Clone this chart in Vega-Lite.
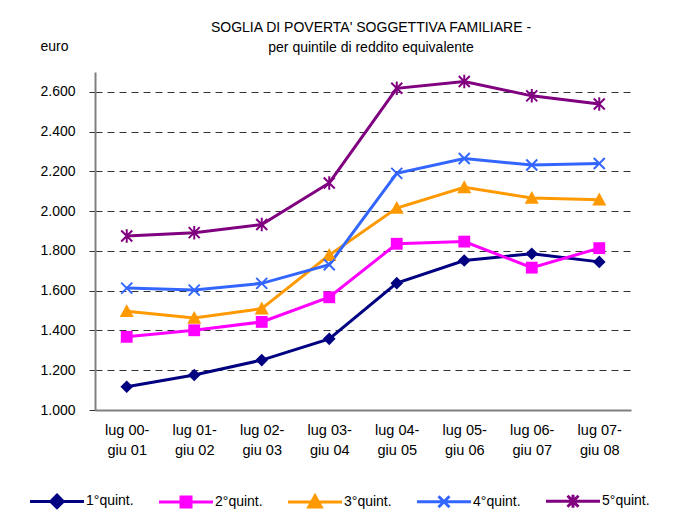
{
  "$schema": "https://vega.github.io/schema/vega-lite/v6.json",
  "width": 536,
  "height": 338,
  "autosize": {"type": "none"},
  "padding": {"left": 95, "top": 72, "right": 59, "bottom": 105},
  "background": "white",
  "title": {
    "text": "SOGLIA DI POVERTA' SOGGETTIVA FAMILIARE -",
    "subtitle": "per quintile di reddito equivalente",
    "anchor": "middle",
    "dx": 8,
    "offset": -16,
    "font": "Liberation Sans",
    "fontSize": 14,
    "fontWeight": "normal",
    "color": "black",
    "subtitleFont": "Liberation Sans",
    "subtitleFontSize": 14,
    "subtitleColor": "black",
    "subtitlePadding": 6
  },
  "data": {
    "values": [
      {"period": "lug 00-giu 01", "q": "1°quint.", "v": 1117},
      {"period": "lug 01-giu 02", "q": "1°quint.", "v": 1176},
      {"period": "lug 02-giu 03", "q": "1°quint.", "v": 1251},
      {"period": "lug 03-giu 04", "q": "1°quint.", "v": 1358},
      {"period": "lug 04-giu 05", "q": "1°quint.", "v": 1638},
      {"period": "lug 05-giu 06", "q": "1°quint.", "v": 1752},
      {"period": "lug 06-giu 07", "q": "1°quint.", "v": 1786},
      {"period": "lug 07-giu 08", "q": "1°quint.", "v": 1745},
      {"period": "lug 00-giu 01", "q": "2°quint.", "v": 1368},
      {"period": "lug 01-giu 02", "q": "2°quint.", "v": 1401},
      {"period": "lug 02-giu 03", "q": "2°quint.", "v": 1443},
      {"period": "lug 03-giu 04", "q": "2°quint.", "v": 1567},
      {"period": "lug 04-giu 05", "q": "2°quint.", "v": 1836},
      {"period": "lug 05-giu 06", "q": "2°quint.", "v": 1847},
      {"period": "lug 06-giu 07", "q": "2°quint.", "v": 1716},
      {"period": "lug 07-giu 08", "q": "2°quint.", "v": 1814},
      {"period": "lug 00-giu 01", "q": "3°quint.", "v": 1497},
      {"period": "lug 01-giu 02", "q": "3°quint.", "v": 1463},
      {"period": "lug 02-giu 03", "q": "3°quint.", "v": 1510},
      {"period": "lug 03-giu 04", "q": "3°quint.", "v": 1779},
      {"period": "lug 04-giu 05", "q": "3°quint.", "v": 2016},
      {"period": "lug 05-giu 06", "q": "3°quint.", "v": 2120},
      {"period": "lug 06-giu 07", "q": "3°quint.", "v": 2066},
      {"period": "lug 07-giu 08", "q": "3°quint.", "v": 2058},
      {"period": "lug 00-giu 01", "q": "4°quint.", "v": 1613},
      {"period": "lug 01-giu 02", "q": "4°quint.", "v": 1603},
      {"period": "lug 02-giu 03", "q": "4°quint.", "v": 1637},
      {"period": "lug 03-giu 04", "q": "4°quint.", "v": 1731},
      {"period": "lug 04-giu 05", "q": "4°quint.", "v": 2190},
      {"period": "lug 05-giu 06", "q": "4°quint.", "v": 2265},
      {"period": "lug 06-giu 07", "q": "4°quint.", "v": 2232},
      {"period": "lug 07-giu 08", "q": "4°quint.", "v": 2240},
      {"period": "lug 00-giu 01", "q": "5°quint.", "v": 1875},
      {"period": "lug 01-giu 02", "q": "5°quint.", "v": 1892},
      {"period": "lug 02-giu 03", "q": "5°quint.", "v": 1933},
      {"period": "lug 03-giu 04", "q": "5°quint.", "v": 2142},
      {"period": "lug 04-giu 05", "q": "5°quint.", "v": 2618},
      {"period": "lug 05-giu 06", "q": "5°quint.", "v": 2652},
      {"period": "lug 06-giu 07", "q": "5°quint.", "v": 2580},
      {"period": "lug 07-giu 08", "q": "5°quint.", "v": 2539}
    ]
  },
  "encoding": {
    "x": {
      "field": "period",
      "type": "ordinal",
      "sort": null,
      "scale": {"type": "point", "padding": 0.47},
      "axis": {
        "title": null,
        "ticks": false,
        "grid": false,
        "labelAngle": 0,
        "labelExpr": "[substring(datum.label,0,7), substring(datum.label,7)]",
        "labelFont": "Liberation Sans",
        "labelFontSize": 14.5,
        "labelColor": "black",
        "labelLineHeight": 20,
        "labelPadding": 13,
        "domainColor": "#808080",
        "domainWidth": 2
      }
    },
    "y": {
      "field": "v",
      "type": "quantitative",
      "scale": {"domain": [1000, 2700], "nice": false, "zero": false},
      "axis": {
        "values": [1000, 1200, 1400, 1600, 1800, 2000, 2200, 2400, 2600],
        "labelExpr": "replace(format(datum.value, ','), ',', '.')",
        "labelFont": "Liberation Sans",
        "labelFontSize": 14,
        "labelColor": "black",
        "labelPadding": 14,
        "tickSize": 6,
        "tickColor": "#333333",
        "domainColor": "#808080",
        "domainWidth": 2,
        "grid": true,
        "gridColor": "#333333",
        "gridDash": [7, 5],
        "gridWidth": 1,
        "title": "euro",
        "titleAngle": 0,
        "titleAlign": "left",
        "titleBaseline": "alphabetic",
        "titleX": -55,
        "titleY": -22,
        "titleFont": "Liberation Sans",
        "titleFontSize": 14,
        "titleFontWeight": "normal",
        "titleColor": "black"
      }
    }
  },
  "layer": [
    {
      "mark": {"type": "point", "filled": true, "opacity": 0, "size": 1},
      "encoding": {
        "color": {
          "field": "q",
          "type": "nominal",
          "scale": {
            "domain": ["1°quint.", "2°quint.", "3°quint.", "4°quint.", "5°quint."],
            "range": ["#000080", "#FF00FF", "#FF9900", "#3366FF", "#800080"]
          },
          "legend": {"title": null}
        },
        "stroke": {
          "field": "q",
          "type": "nominal",
          "scale": {
            "domain": ["1°quint.", "2°quint.", "3°quint.", "4°quint.", "5°quint."],
            "range": ["#000080", "#FF00FF", "#FF9900", "#3366FF", "#800080"]
          },
          "legend": {"title": null}
        },
        "shape": {
          "field": "q",
          "type": "nominal",
          "scale": {
            "domain": ["1°quint.", "2°quint.", "3°quint.", "4°quint.", "5°quint."],
            "range": [
              "M-5.4,0L5.4,0M0,-1.25L1.25,0L0,1.25L-1.25,0Z",
              "M-5.4,0L5.4,0M-1,-1L1,-1L1,1L-1,1Z",
              "M-5.4,0L5.4,0M0,-1.25L1.25,1L-1.25,1Z",
              "M-5.4,0L5.4,0M-1.1,-1.1L1.1,1.1M-1.1,1.1L1.1,-1.1",
              "M-5.4,0L5.4,0M-1.1,-1.1L1.1,1.1M-1.1,1.1L1.1,-1.1M0,-1.3L0,1.3"
            ]
          },
          "legend": {"title": null}
        }
      }
    },
    {
      "mark": {"type": "line", "strokeWidth": 3},
      "encoding": {
        "color": {"field": "q", "type": "nominal", "legend": null}
      }
    },
    {
      "transform": [{"filter": "datum.q == '1°quint.'"}],
      "mark": {"type": "point", "filled": true, "opacity": 1, "size": 160, "shape": "diamond"},
      "encoding": {"color": {"field": "q", "type": "nominal", "legend": null}}
    },
    {
      "transform": [{"filter": "datum.q == '2°quint.'"}],
      "mark": {"type": "point", "filled": true, "opacity": 1, "size": 140, "shape": "square"},
      "encoding": {"color": {"field": "q", "type": "nominal", "legend": null}}
    },
    {
      "transform": [{"filter": "datum.q == '3°quint.'"}],
      "mark": {"type": "point", "filled": true, "opacity": 1, "size": 150, "shape": "M0,-1.15L1.15,0.95L-1.15,0.95Z"},
      "encoding": {"color": {"field": "q", "type": "nominal", "legend": null}}
    },
    {
      "transform": [{"filter": "datum.q == '4°quint.'"}],
      "mark": {"type": "point", "filled": false, "opacity": 1, "size": 150, "strokeWidth": 2, "shape": "M-0.9,-0.9L0.9,0.9M-0.9,0.9L0.9,-0.9"},
      "encoding": {"color": {"field": "q", "type": "nominal", "legend": null}}
    },
    {
      "transform": [{"filter": "datum.q == '5°quint.'"}],
      "mark": {"type": "point", "filled": false, "opacity": 1, "size": 150, "strokeWidth": 2, "shape": "M-0.9,-0.9L0.9,0.9M-0.9,0.9L0.9,-0.9M0,-1.1L0,1.1"},
      "encoding": {"color": {"field": "q", "type": "nominal", "legend": null}}
    }
  ],
  "config": {
    "view": {"stroke": null},
    "font": "Liberation Sans",
    "legend": {
      "orient": "none",
      "direction": "horizontal",
      "legendX": -45,
      "legendY": 422,
      "symbolSize": 100,
      "symbolStrokeWidth": 3,
      "symbolOpacity": 1,
      "labelOffset": 22,
      "columnPadding": 19,
      "labelFont": "Liberation Sans",
      "labelFontSize": 14,
      "labelColor": "black"
    }
  }
}
